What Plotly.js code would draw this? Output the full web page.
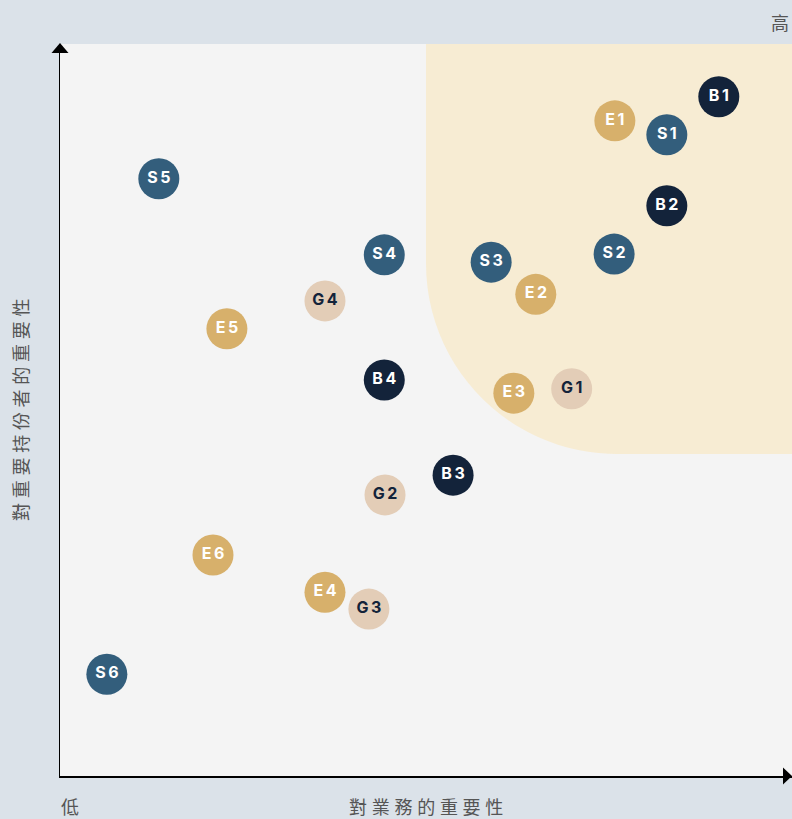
<!DOCTYPE html>
<html>
<head>
<meta charset="utf-8">
<script src="https://cdn.plot.ly/plotly-3.0.1.min.js"></script>
<style>html,body{margin:0;padding:0;background:#dbe2e9;}#chart{width:792px;height:819px;}</style>
</head>
<body>
<div id="chart"></div>
<script>
// Data (x: importance to business, y: importance to stakeholders), 0-100 scale
const groupB_labels = ["B1", "B2", "B3", "B4"];
const groupB_x = [90.0, 82.9, 53.7, 44.3];
const groupB_y = [92.8, 77.9, 41.1, 54.1];

const groupS_labels = ["S1", "S2", "S3", "S4", "S5", "S6"];
const groupS_x = [82.9, 75.7, 58.9, 44.3, 13.5, 6.4];
const groupS_y = [87.6, 71.3, 70.2, 71.2, 81.6, 13.9];

const groupE_labels = ["E1", "E2", "E3", "E4", "E5", "E6"];
const groupE_x = [75.8, 65.0, 62.0, 36.2, 22.8, 20.9];
const groupE_y = [89.5, 65.8, 52.3, 25.1, 61.1, 30.2];

const groupG_labels = ["G1", "G2", "G3", "G4"];
const groupG_x = [69.9, 44.4, 42.2, 36.2];
const groupG_y = [52.9, 38.4, 22.8, 64.9];

// Highlight zone bounds (data units)
const zoneX0 = 50, zoneY0 = 44, zoneR = 26;

const xTitle = "對業務的重要性";
const yTitle = "對重要持份者的重要性";
const highLabel = "高";
const lowLabel = "低";

function spaced(s, sep) { return s.split("").join(sep); }

function mk(labels, xs, ys, color, textColor) {
  return {
    type: "scatter", mode: "markers+text",
    x: xs, y: ys, text: labels.map(function (l) { return spaced(l, "\u2009"); }),
    textposition: "middle center",
    marker: {size: 41, color: color, line: {width: 0}},
    textfont: {family: "Inter, Roboto, sans-serif", size: 16, color: textColor, weight: 700},
    cliponaxis: false, hoverinfo: "skip", showlegend: false
  };
}

const traces = [
  mk(groupE_labels, groupE_x, groupE_y, "#d7b06b", "#ffffff"),
  mk(groupG_labels, groupG_x, groupG_y, "#e3cdb7", "#13233a"),
  mk(groupS_labels, groupS_x, groupS_y, "#335e7c", "#ffffff"),
  mk(groupB_labels, groupB_x, groupB_y, "#13233a", "#ffffff")
];

const k = 0.5523 * zoneR;
const zonePath = "M " + zoneX0 + " 100 L " + zoneX0 + " " + (zoneY0 + zoneR) +
  " C " + zoneX0 + " " + (zoneY0 + zoneR - k) + ", " + (zoneX0 + zoneR - k) + " " + zoneY0 + ", " + (zoneX0 + zoneR) + " " + zoneY0 +
  " L 100 " + zoneY0 + " L 100 100 Z";

const cjk = "'Noto Sans CJK TC', 'Noto Sans CJK SC', sans-serif";
const titleSep = "\u2009\u200A";

const layout = {
  width: 792, height: 819,
  margin: {l: 60, r: 0, t: 44, b: 43, pad: 0},
  paper_bgcolor: "#dbe2e9",
  plot_bgcolor: "#f4f4f4",
  xaxis: {range: [0, 100], showgrid: false, zeroline: false, showticklabels: false, ticks: "",
          showline: true, linecolor: "#000000", linewidth: 1.5, fixedrange: true},
  yaxis: {range: [0, 100], showgrid: false, zeroline: false, showticklabels: false, ticks: "",
          showline: true, linecolor: "#000000", linewidth: 1.5, fixedrange: true},
  shapes: [
    {type: "path", xref: "x", yref: "y", path: zonePath, fillcolor: "#f7ecd3", line: {width: 0}, layer: "below"},
    {type: "path", xref: "paper", yref: "paper", xsizemode: "pixel", ysizemode: "pixel", xanchor: 0, yanchor: 1,
     path: "M -8.5 -9 L 8.5 -9 L 0 1 Z", fillcolor: "#000000", line: {width: 0}, layer: "above"},
    {type: "path", xref: "paper", yref: "paper", xsizemode: "pixel", ysizemode: "pixel", xanchor: 1, yanchor: 0,
     path: "M -9 -8.5 L -9 8.5 L 0 0 Z", fillcolor: "#000000", line: {width: 0}, layer: "above"}
  ],
  annotations: [
    {text: spaced(xTitle, titleSep), xref: "paper", yref: "paper", x: 0.5, y: 0, yshift: -30, showarrow: false,
     xanchor: "center", yanchor: "middle", font: {family: cjk, size: 18, color: "#555555"}},
    {text: spaced(yTitle, titleSep), xref: "paper", yref: "paper", x: 0, y: 0.5, xshift: -40, textangle: -90, showarrow: false,
     xanchor: "center", yanchor: "middle", font: {family: cjk, size: 18, color: "#555555"}},
    {text: highLabel, xref: "paper", yref: "paper", x: 1, y: 1, xshift: -12, yshift: 22, showarrow: false,
     xanchor: "center", yanchor: "middle", font: {family: cjk, size: 18, color: "#555555"}},
    {text: lowLabel, xref: "paper", yref: "paper", x: 0, y: 0, xshift: 10, yshift: -30, showarrow: false,
     xanchor: "center", yanchor: "middle", font: {family: cjk, size: 18, color: "#555555"}}
  ]
};

Plotly.newPlot("chart", traces, layout, {displayModeBar: false, staticPlot: true});
</script>
</body>
</html>
